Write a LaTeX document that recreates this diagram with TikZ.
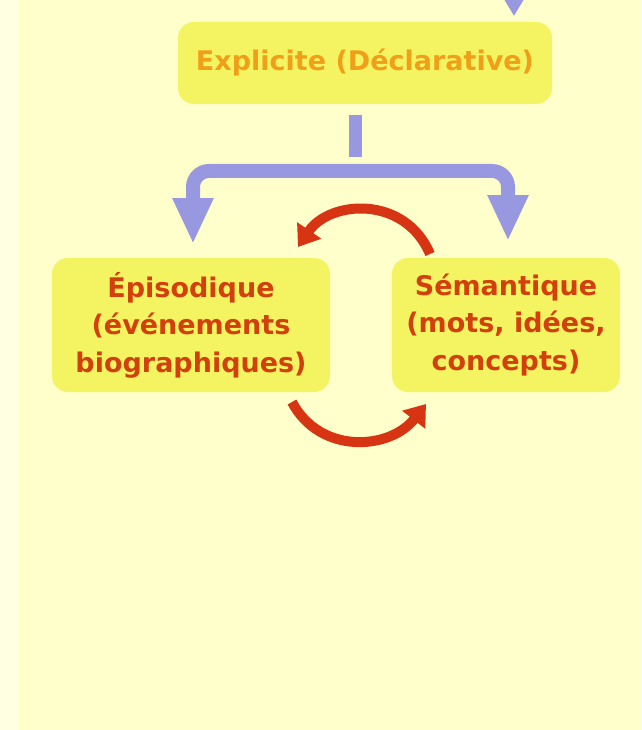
\documentclass[tikz,border=0pt]{standalone}
\usepackage{fontspec}
\setmainfont{DejaVu Sans}
\usetikzlibrary{arrows.meta}
\definecolor{bgc}{HTML}{FFFFCC}
\definecolor{bgl}{HTML}{FFFFE2}
\definecolor{boxc}{HTML}{F4F462}
\definecolor{toptxt}{HTML}{F0A018}
\definecolor{redtxt}{HTML}{D2400E}
\definecolor{purp}{HTML}{9898E0}
\definecolor{redarc}{HTML}{D63412}
\tikzset{
  ybox/.style={fill=boxc, rounded corners=16pt, inner sep=0pt, align=center, font=\bfseries\fontsize{27}{37.5}\selectfont},
  purparrow/.style={draw=purp, line width=14pt, rounded corners=16pt},
  redcurve/.style={draw=redarc, line width=10pt, -{Triangle[length=20pt,width=28pt]}}
}
\begin{document}
\begin{tikzpicture}[x=1pt,y=-1pt]
\useasboundingbox (0,0) rectangle (641,730);
\fill[bgc] (0,0) rectangle (641,730);
\fill[bgl] (0,0) rectangle (17,730);
% nodes
\node[ybox, text=toptxt, minimum width=374pt, minimum height=82pt] (ex) at (365,63) {Explicite (Déclarative)};
\node[ybox, text=redtxt, minimum width=278pt, minimum height=134pt] (ep) at (191,325) {Épisodique\\(événements\\biographiques)};
\node[ybox, text=redtxt, minimum width=228pt, minimum height=134pt] (se) at (506,325) {Sémantique\\(mots, idées,\\concepts)};
% top incoming arrow
\coordinate (intop) at (514,-4);
\coordinate (intip) at (514,16);
\draw[draw=purp, line width=6pt, -{Triangle[length=18pt,width=20pt]}] (intop) -- (intip);
% stem
\coordinate (stemtop) at (355,115);
\coordinate (stembot) at (355,157);
\draw[draw=purp, line width=13pt] (stemtop) -- (stembot);
% branching bar
\coordinate (lt) at (193,244);
\coordinate (bar) at (355,171);
\coordinate (rt) at (508,241);
\draw[purparrow, {Triangle[length=46pt,width=38pt]}-{Triangle[length=46pt,width=38pt]}] (lt) |- (bar) -| (rt);
% red arcs
\coordinate (a1s) at (430,254);
\coordinate (a1e) at (298,247);
\draw[redcurve] (a1s) .. controls (405,195) and (330,200) .. (a1e);
\coordinate (a2s) at (292,402);
\coordinate (a2e) at (426,404);
\draw[redcurve] (a2s) .. controls (320,455) and (390,450) .. (a2e);
\end{tikzpicture}
\end{document}
